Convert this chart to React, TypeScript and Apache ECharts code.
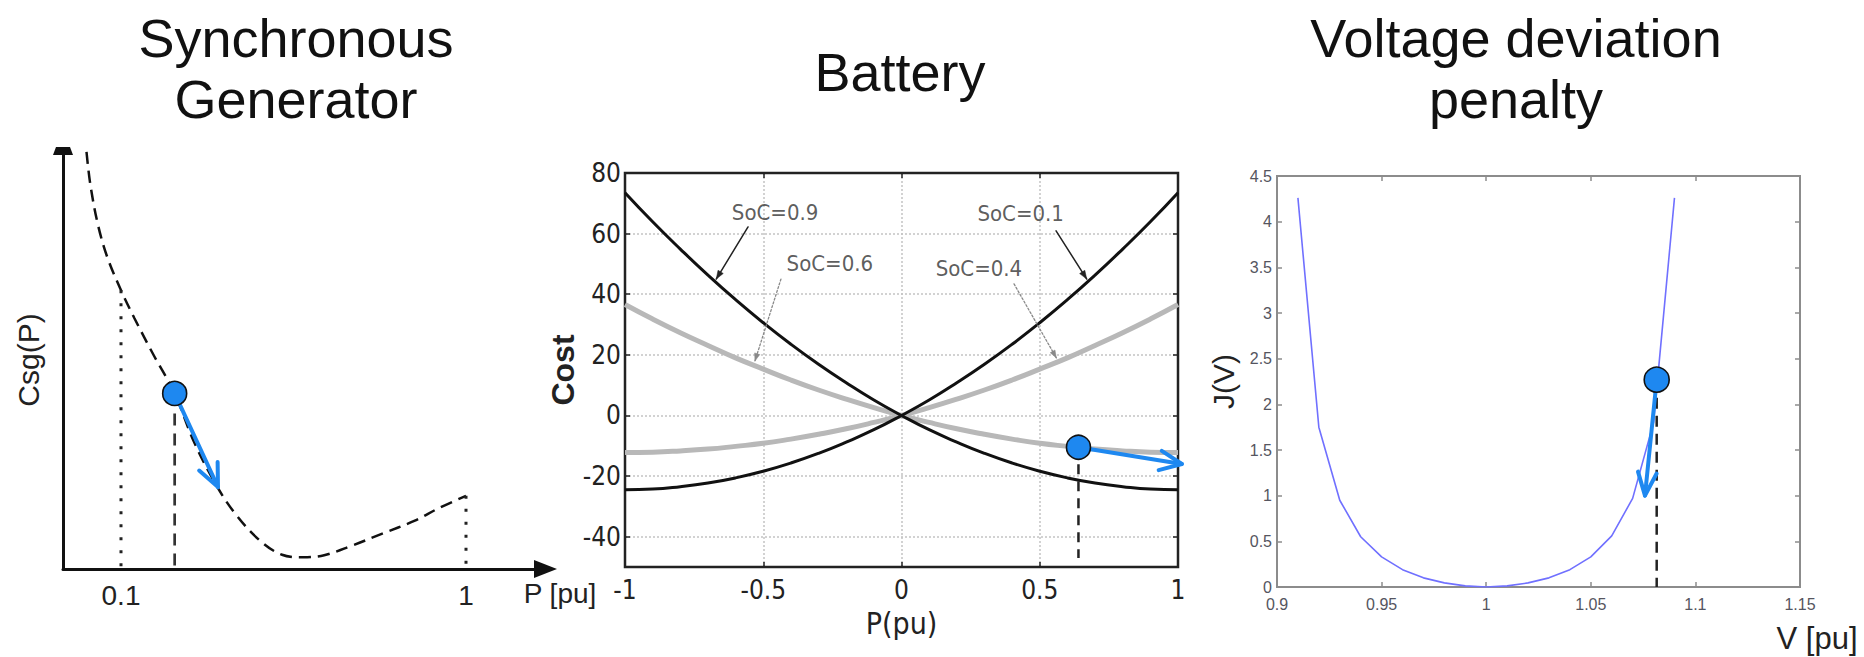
import React, { useEffect, useRef } from "react";
import * as echarts from "echarts";

const W = 1864;
const H = 657;
const SANS = "'Liberation Sans', Arial, Helvetica, sans-serif";
const NARROW = "'Liberation Sans Narrow', 'Arial Narrow', 'DejaVu Sans Condensed', sans-serif";
const BLUE = "#1e88f0";

// ---------- Panel 1: Synchronous generator (schematic) ----------
const sgP = [0.01, 0.02, 0.04, 0.065, 0.1, 0.135, 0.185, 0.24, 0.29, 0.35, 0.4, 0.46, 0.52, 0.575, 0.63, 0.7, 0.78, 0.865, 0.93, 1.0];
const sgCost = [9.98, 9.2, 8.23, 7.44, 6.67, 6.0, 5.12, 4.2, 3.05, 1.98, 1.3, 0.7, 0.34, 0.28, 0.33, 0.55, 0.84, 1.15, 1.46, 1.75];
const sgTickLabels = [0.1, 1];
const sgPoint = [0.24, 4.2];
const sgArrow = [0.24, 4.2, 0.353, 1.96];
const sgDotted = [
  [0.1, 6.67],
  [1.0, 1.75],
];

// ---------- Panel 2: Battery ----------
const batP = [-1, -0.9, -0.8, -0.7, -0.6, -0.5, -0.4, -0.3, -0.2, -0.1, 0, 0.1, 0.2, 0.3, 0.4, 0.5, 0.6, 0.7, 0.8, 0.9, 1];
const soc01 = [-24.5, -24.3, -23.5, -22.3, -20.6, -18.4, -15.7, -12.5, -8.8, -4.7, 0, 5.1, 10.8, 16.9, 23.5, 30.6, 38.2, 46.3, 54.9, 63.9, 73.5];
const soc09 = [73.5, 63.9, 54.9, 46.3, 38.2, 30.6, 23.5, 16.9, 10.8, 5.1, 0, -4.7, -8.8, -12.5, -15.7, -18.4, -20.6, -22.3, -23.5, -24.3, -24.5];
const soc04 = [-12.2, -12.1, -11.7, -11.1, -10.2, -9.2, -7.8, -6.2, -4.4, -2.3, 0, 2.6, 5.4, 8.4, 11.7, 15.3, 19.0, 23.1, 27.3, 31.8, 36.6];
const soc06 = [36.6, 31.8, 27.3, 23.1, 19.0, 15.3, 11.7, 8.4, 5.4, 2.6, 0, -2.3, -4.4, -6.2, -7.8, -9.2, -10.2, -11.1, -11.7, -12.1, -12.2];
const batYLabels = [-40, -20, 0, 20, 40, 60, 80];
const batYInner = [-40, -20, 0, 20, 40, 60];
const batXLabels = [-1, -0.5, 0, 0.5, 1];
const batXInner = [-0.5, 0, 0.5];
const socLabels = ["SoC=0.9", "SoC=0.6", "SoC=0.1", "SoC=0.4"];
const socLabelPos = [
  [-0.457, 67.1],
  [-0.259, 50.3],
  [0.431, 66.5],
  [0.28, 48.6],
];
const socBlackArrows = [
  [-0.555, 62.2, -0.67, 45],
  [0.559, 60.9, 0.67, 45],
];
const socGrayArrows = [
  [-0.436, 45, -0.53, 18],
  [0.407, 43.4, 0.56, 19],
];
const batPoint = [0.64, -10.5];
const batArrow = [0.64, -10.5, 1.014, -16];
const batDrop = [
  [0.64, -10.5],
  [0.64, -47],
];

// ---------- Panel 3: Voltage deviation penalty ----------
const vV = [0.91, 0.92, 0.93, 0.94, 0.95, 0.96, 0.97, 0.98, 0.99, 1.0, 1.01, 1.02, 1.03, 1.04, 1.05, 1.06, 1.07, 1.08, 1.09];
const vJ = [4.26, 1.75, 0.95, 0.55, 0.33, 0.19, 0.1, 0.045, 0.012, 0, 0.012, 0.045, 0.1, 0.19, 0.33, 0.56, 0.97, 1.8, 4.26];
const vPoint = [1.0815, 2.27];
const vArrow = [1.0815, 2.27, 1.0759, 1.0];
const vDrop = [
  [1.0815, 2.27],
  [1.0815, 0],
];

function zip(xs: number[], ys: number[]) {
  return xs.map((x, i) => [x, ys[i]]);
}

function arrowSeries(
  data: number[][],
  xi: number,
  yi: number,
  color: string,
  width: number,
  head: "chevron" | "filled",
  headLen: number,
  headAng: number,
  dash?: number[]
) {
  return {
    type: "custom",
    coordinateSystem: "cartesian2d",
    xAxisIndex: xi,
    yAxisIndex: yi,
    data,
    silent: true,
    clip: false,
    z: 15,
    renderItem: (_p: any, api: any) => {
      const a = api.coord([api.value(0), api.value(1)]);
      const b = api.coord([api.value(2), api.value(3)]);
      const ang = Math.atan2(b[1] - a[1], b[0] - a[0]);
      const s = (headAng * Math.PI) / 180;
      const p1 = [b[0] - headLen * Math.cos(ang - s), b[1] - headLen * Math.sin(ang - s)];
      const p2 = [b[0] - headLen * Math.cos(ang + s), b[1] - headLen * Math.sin(ang + s)];
      const children: any[] = [
        {
          type: "line",
          shape: { x1: a[0], y1: a[1], x2: b[0], y2: b[1] },
          style: { stroke: color, lineWidth: width, lineDash: dash || null, lineCap: "round" },
        },
      ];
      if (head === "chevron") {
        children.push({
          type: "polyline",
          shape: { points: [p1, b, p2] },
          style: { stroke: color, lineWidth: width, fill: null, lineCap: "round", lineJoin: "round" },
        });
      } else {
        children.push({
          type: "polygon",
          shape: { points: [p1, b, p2] },
          style: { fill: color, stroke: color, lineWidth: 0.5 },
        });
      }
      return { type: "group", children };
    },
  };
}

function buildOption(): any {
  const dot = (xi: number, yi: number, pt: number[], size: number) => ({
    type: "scatter",
    xAxisIndex: xi,
    yAxisIndex: yi,
    data: [pt],
    symbolSize: size,
    silent: true,
    z: 20,
    itemStyle: { color: BLUE, borderColor: "#111", borderWidth: 1.6, opacity: 1 },
  });
  const seg = (xi: number, yi: number, pts: number[][], color: string, width: number, type: any, z = 5) => ({
    type: "line",
    xAxisIndex: xi,
    yAxisIndex: yi,
    data: pts,
    symbol: "none",
    silent: true,
    z,
    lineStyle: { color, width, type },
  });
  const curve = (xi: number, yi: number, xs: number[], ys: number[], color: string, width: number, z: number, smooth: any) => ({
    type: "line",
    xAxisIndex: xi,
    yAxisIndex: yi,
    data: zip(xs, ys),
    smooth,
    symbol: "none",
    silent: true,
    z,
    lineStyle: { color, width },
  });

  const batLabelFont = { fontFamily: NARROW, fontSize: 26, color: "#222" };
  const vLabelFont = { fontFamily: SANS, fontSize: 16, color: "#555560" };
  const batTick = { show: true, inside: true, length: 5, lineStyle: { color: "#222", width: 1.5 } };
  const vTick = { show: true, inside: true, length: 5, lineStyle: { color: "#8c8c8c", width: 1.5 } };
  const noLine = { show: false, onZero: false };

  return {
    animation: false,
    backgroundColor: "#ffffff",
    grid: [
      { left: 63, top: 151, width: 482.5, height: 418, show: false },
      { left: 625, top: 173, width: 553, height: 394, show: true, z: 1, borderColor: "#222", borderWidth: 2.5, backgroundColor: "transparent" },
      { left: 1277, top: 176, width: 523, height: 411, show: true, z: 1, borderColor: "#8c8c8c", borderWidth: 2, backgroundColor: "transparent" },
    ],
    xAxis: [
      {
        gridIndex: 0,
        type: "value",
        min: -0.0513,
        max: 1.2074,
        axisLine: { show: true, onZero: false, symbol: ["none", "triangle"], symbolSize: [18, 23], lineStyle: { color: "#111", width: 3 } },
        axisTick: { show: false },
        splitLine: { show: false },
        axisLabel: { show: true, customValues: sgTickLabels, margin: 12, fontFamily: SANS, fontSize: 28, color: "#222" },
      },
      {
        gridIndex: 1,
        type: "value",
        min: -1,
        max: 1,
        position: "bottom",
        name: "P(pu)",
        nameLocation: "middle",
        nameGap: 41,
        nameTextStyle: { fontFamily: NARROW, fontSize: 30, color: "#222" },
        axisLine: noLine,
        axisTick: { ...batTick, customValues: batXInner },
        splitLine: { show: true, lineStyle: { color: "#c4c4c4", width: 1.5, type: [2, 2] } },
        axisLabel: { margin: 10, customValues: batXLabels, ...batLabelFont },
      },
      {
        gridIndex: 1,
        type: "value",
        min: -1,
        max: 1,
        position: "top",
        axisLine: noLine,
        axisTick: { ...batTick, customValues: batXInner },
        splitLine: { show: false },
        axisLabel: { show: false },
      },
      {
        gridIndex: 2,
        type: "value",
        min: 0.9,
        max: 1.15,
        interval: 0.05,
        position: "bottom",
        axisLine: noLine,
        axisTick: vTick,
        splitLine: { show: false },
        axisLabel: { margin: 9, ...vLabelFont },
      },
      {
        gridIndex: 2,
        type: "value",
        min: 0.9,
        max: 1.15,
        interval: 0.05,
        position: "top",
        axisLine: noLine,
        axisTick: vTick,
        splitLine: { show: false },
        axisLabel: { show: false },
      },
    ],
    yAxis: [
      {
        gridIndex: 0,
        type: "value",
        min: 0,
        max: 10,
        name: "Csg(P)",
        nameLocation: "middle",
        nameGap: 20,
        nameTextStyle: { fontFamily: SANS, fontSize: 30, color: "#222" },
        axisLine: { show: true, onZero: false, symbol: ["none", "path://M3,0 L17,0 L20,8 L0,8 Z"], symbolSize: [20, 8], lineStyle: { color: "#111", width: 3 } },
        axisTick: { show: false },
        splitLine: { show: false },
        axisLabel: { show: false },
      },
      {
        gridIndex: 1,
        type: "value",
        min: -50,
        max: 80,
        position: "left",
        name: "Cost",
        nameLocation: "middle",
        nameGap: 30,
        nameTextStyle: { fontFamily: SANS, fontSize: 32, fontWeight: "bold", color: "#222" },
        axisLine: noLine,
        axisTick: { ...batTick, customValues: batYInner },
        splitLine: { show: true, lineStyle: { color: "#c4c4c4", width: 1.5, type: [2, 2] } },
        axisLabel: { margin: 4, customValues: batYLabels, ...batLabelFont },
      },
      {
        gridIndex: 1,
        type: "value",
        min: -50,
        max: 80,
        position: "right",
        axisLine: noLine,
        axisTick: { ...batTick, customValues: batYInner },
        splitLine: { show: false },
        axisLabel: { show: false },
      },
      {
        gridIndex: 2,
        type: "value",
        min: 0,
        max: 4.5,
        interval: 0.5,
        position: "left",
        name: "J(V)",
        nameLocation: "middle",
        nameGap: 39,
        nameTextStyle: { fontFamily: SANS, fontSize: 30, color: "#222" },
        axisLine: noLine,
        axisTick: vTick,
        splitLine: { show: false },
        axisLabel: { margin: 5, ...vLabelFont },
      },
      {
        gridIndex: 2,
        type: "value",
        min: 0,
        max: 4.5,
        interval: 0.5,
        position: "right",
        axisLine: noLine,
        axisTick: vTick,
        splitLine: { show: false },
        axisLabel: { show: false },
      },
    ],
    graphic: [
      {
        type: "text",
        x: 296,
        y: 68,
        silent: true,
        style: { text: "Synchronous\nGenerator", align: "center", verticalAlign: "middle", fontFamily: SANS, fontSize: 54, lineHeight: 61, fill: "#111" },
      },
      {
        type: "text",
        x: 900,
        y: 72,
        silent: true,
        style: { text: "Battery", align: "center", verticalAlign: "middle", fontFamily: SANS, fontSize: 54, fill: "#111" },
      },
      {
        type: "text",
        x: 1516,
        y: 68,
        silent: true,
        style: { text: "Voltage deviation\npenalty", align: "center", verticalAlign: "middle", fontFamily: SANS, fontSize: 54, lineHeight: 61, fill: "#111" },
      },
      {
        type: "text",
        x: 560,
        y: 593,
        silent: true,
        style: { text: "P [pu]", align: "center", verticalAlign: "middle", fontFamily: SANS, fontSize: 28, fill: "#222" },
      },
      {
        type: "text",
        x: 1817,
        y: 638,
        silent: true,
        style: { text: "V [pu]", align: "center", verticalAlign: "middle", fontFamily: SANS, fontSize: 31, fill: "#222" },
      },
    ],
    series: [
      // Panel 1
      {
        type: "line",
        xAxisIndex: 0,
        yAxisIndex: 0,
        data: zip(sgP, sgCost),
        smooth: 0.35,
        symbol: "none",
        silent: true,
        lineStyle: { color: "#111", width: 2.5, type: [12, 7] },
      },
      seg(0, 0, [sgDotted[0], [sgDotted[0][0], 0]], "#222", 3, [3, 10]),
      seg(0, 0, [sgDotted[1], [sgDotted[1][0], 0]], "#222", 3, [3, 10]),
      seg(0, 0, [sgPoint, [sgPoint[0], 0]], "#333", 2.7, [12, 8]),
      arrowSeries([sgArrow], 0, 0, BLUE, 4, "chevron", 25, 24),
      dot(0, 0, sgPoint, 24),

      // Panel 2
      curve(1, 1, batP, soc04, "#b8b8b8", 5, 3, true),
      curve(1, 1, batP, soc06, "#b8b8b8", 5, 3, true),
      curve(1, 1, batP, soc01, "#111", 3, 4, true),
      curve(1, 1, batP, soc09, "#111", 3, 4, true),
      {
        type: "scatter",
        xAxisIndex: 1,
        yAxisIndex: 1,
        symbolSize: 0,
        silent: true,
        z: 12,
        data: socLabels.map((n, i) => ({ name: n, value: socLabelPos[i] })),
        label: { show: true, position: "inside", formatter: "{b}", fontFamily: NARROW, fontSize: 22, color: "#333" },
      },
      arrowSeries(socBlackArrows, 1, 1, "#222", 1.5, "filled", 9, 20),
      arrowSeries(socGrayArrows, 1, 1, "#888", 1.3, "filled", 8, 20, [2, 2]),
      seg(1, 1, batDrop, "#222", 2.5, [10, 7], 6),
      arrowSeries([batArrow], 1, 1, BLUE, 4, "chevron", 24, 24),
      dot(1, 1, batPoint, 24),

      // Panel 3
      curve(3, 3, vV, vJ, "#7070ff", 1.6, 4, false),
      seg(3, 3, vDrop, "#222", 2.5, [11, 7], 6),
      arrowSeries([vArrow], 3, 3, BLUE, 4, "chevron", 25, 22),
      dot(3, 3, vPoint, 25),
    ],
  };
}

export default function App() {
  const ref = useRef<HTMLDivElement>(null);
  useEffect(() => {
    if (!ref.current) return;
    const chart = echarts.init(ref.current, null, { renderer: "svg" });
    chart.setOption(buildOption());
    return () => {
      chart.dispose();
    };
  }, []);
  return (
    <div
      ref={ref}
      style={{ position: "fixed", left: 0, top: 0, width: W, height: H, background: "#ffffff" }}
    />
  );
}
